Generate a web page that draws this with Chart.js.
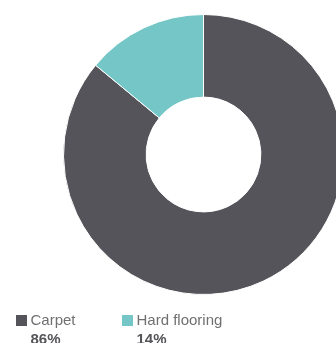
<!DOCTYPE html>
<html>
<head>
<meta charset="utf-8">
<script src="https://cdn.jsdelivr.net/npm/chart.js@4/dist/chart.umd.min.js"></script>
<style>
  html, body { margin: 0; padding: 0; width: 336px; height: 343px; overflow: hidden; background: #fff; }
  #wrap { position: absolute; left: 62.5px; top: 13.5px; width: 281px; height: 281px; }
  #legend { position: absolute; left: 0; top: 0; width: 336px; height: 343px; pointer-events: none;
            font-family: "Liberation Sans", Arial, sans-serif; }
  .item { position: absolute; top: 310px; }
  .sw { position: absolute; left: 0; top: 5px; width: 10.5px; height: 10.5px; }
  .lbl { position: absolute; left: 14.5px; top: 0; font-size: 15px; line-height: 20px; color: #707070; white-space: nowrap; }
  .pct { position: absolute; left: 14.5px; top: 19px; font-size: 15px; line-height: 20px; font-weight: bold; color: #555459; white-space: nowrap; }
</style>
</head>
<body>
<div id="wrap"><canvas id="c"></canvas></div>
<div id="legend"></div>
<script>
const categories = ["Carpet", "Hard flooring"];
const shares = [86, 14];
const shareLabels = ["86%", "14%"];
const colors = ["#55545a", "#75c6c6"];
const legendX = [16, 122];

new Chart(document.getElementById("c"), {
  type: "doughnut",
  data: {
    labels: categories,
    datasets: [{
      data: shares,
      backgroundColor: colors,
      borderColor: "#ffffff",
      borderWidth: 1,
      hoverBorderWidth: 1,
      hoverOffset: 0
    }]
  },
  options: {
    responsive: true,
    maintainAspectRatio: false,
    animation: false,
    cutout: "41%",
    layout: { padding: 0 },
    plugins: { legend: { display: false }, tooltip: { enabled: false } },
    events: []
  }
});

const lg = document.getElementById("legend");
categories.forEach((name, i) => {
  const it = document.createElement("div");
  it.className = "item";
  it.style.left = legendX[i] + "px";
  const sw = document.createElement("div"); sw.className = "sw"; sw.style.background = colors[i];
  const l = document.createElement("div"); l.className = "lbl"; l.textContent = name;
  const p = document.createElement("div"); p.className = "pct"; p.textContent = shareLabels[i];
  it.appendChild(sw); it.appendChild(l); it.appendChild(p);
  lg.appendChild(it);
});
</script>
</body>
</html>
